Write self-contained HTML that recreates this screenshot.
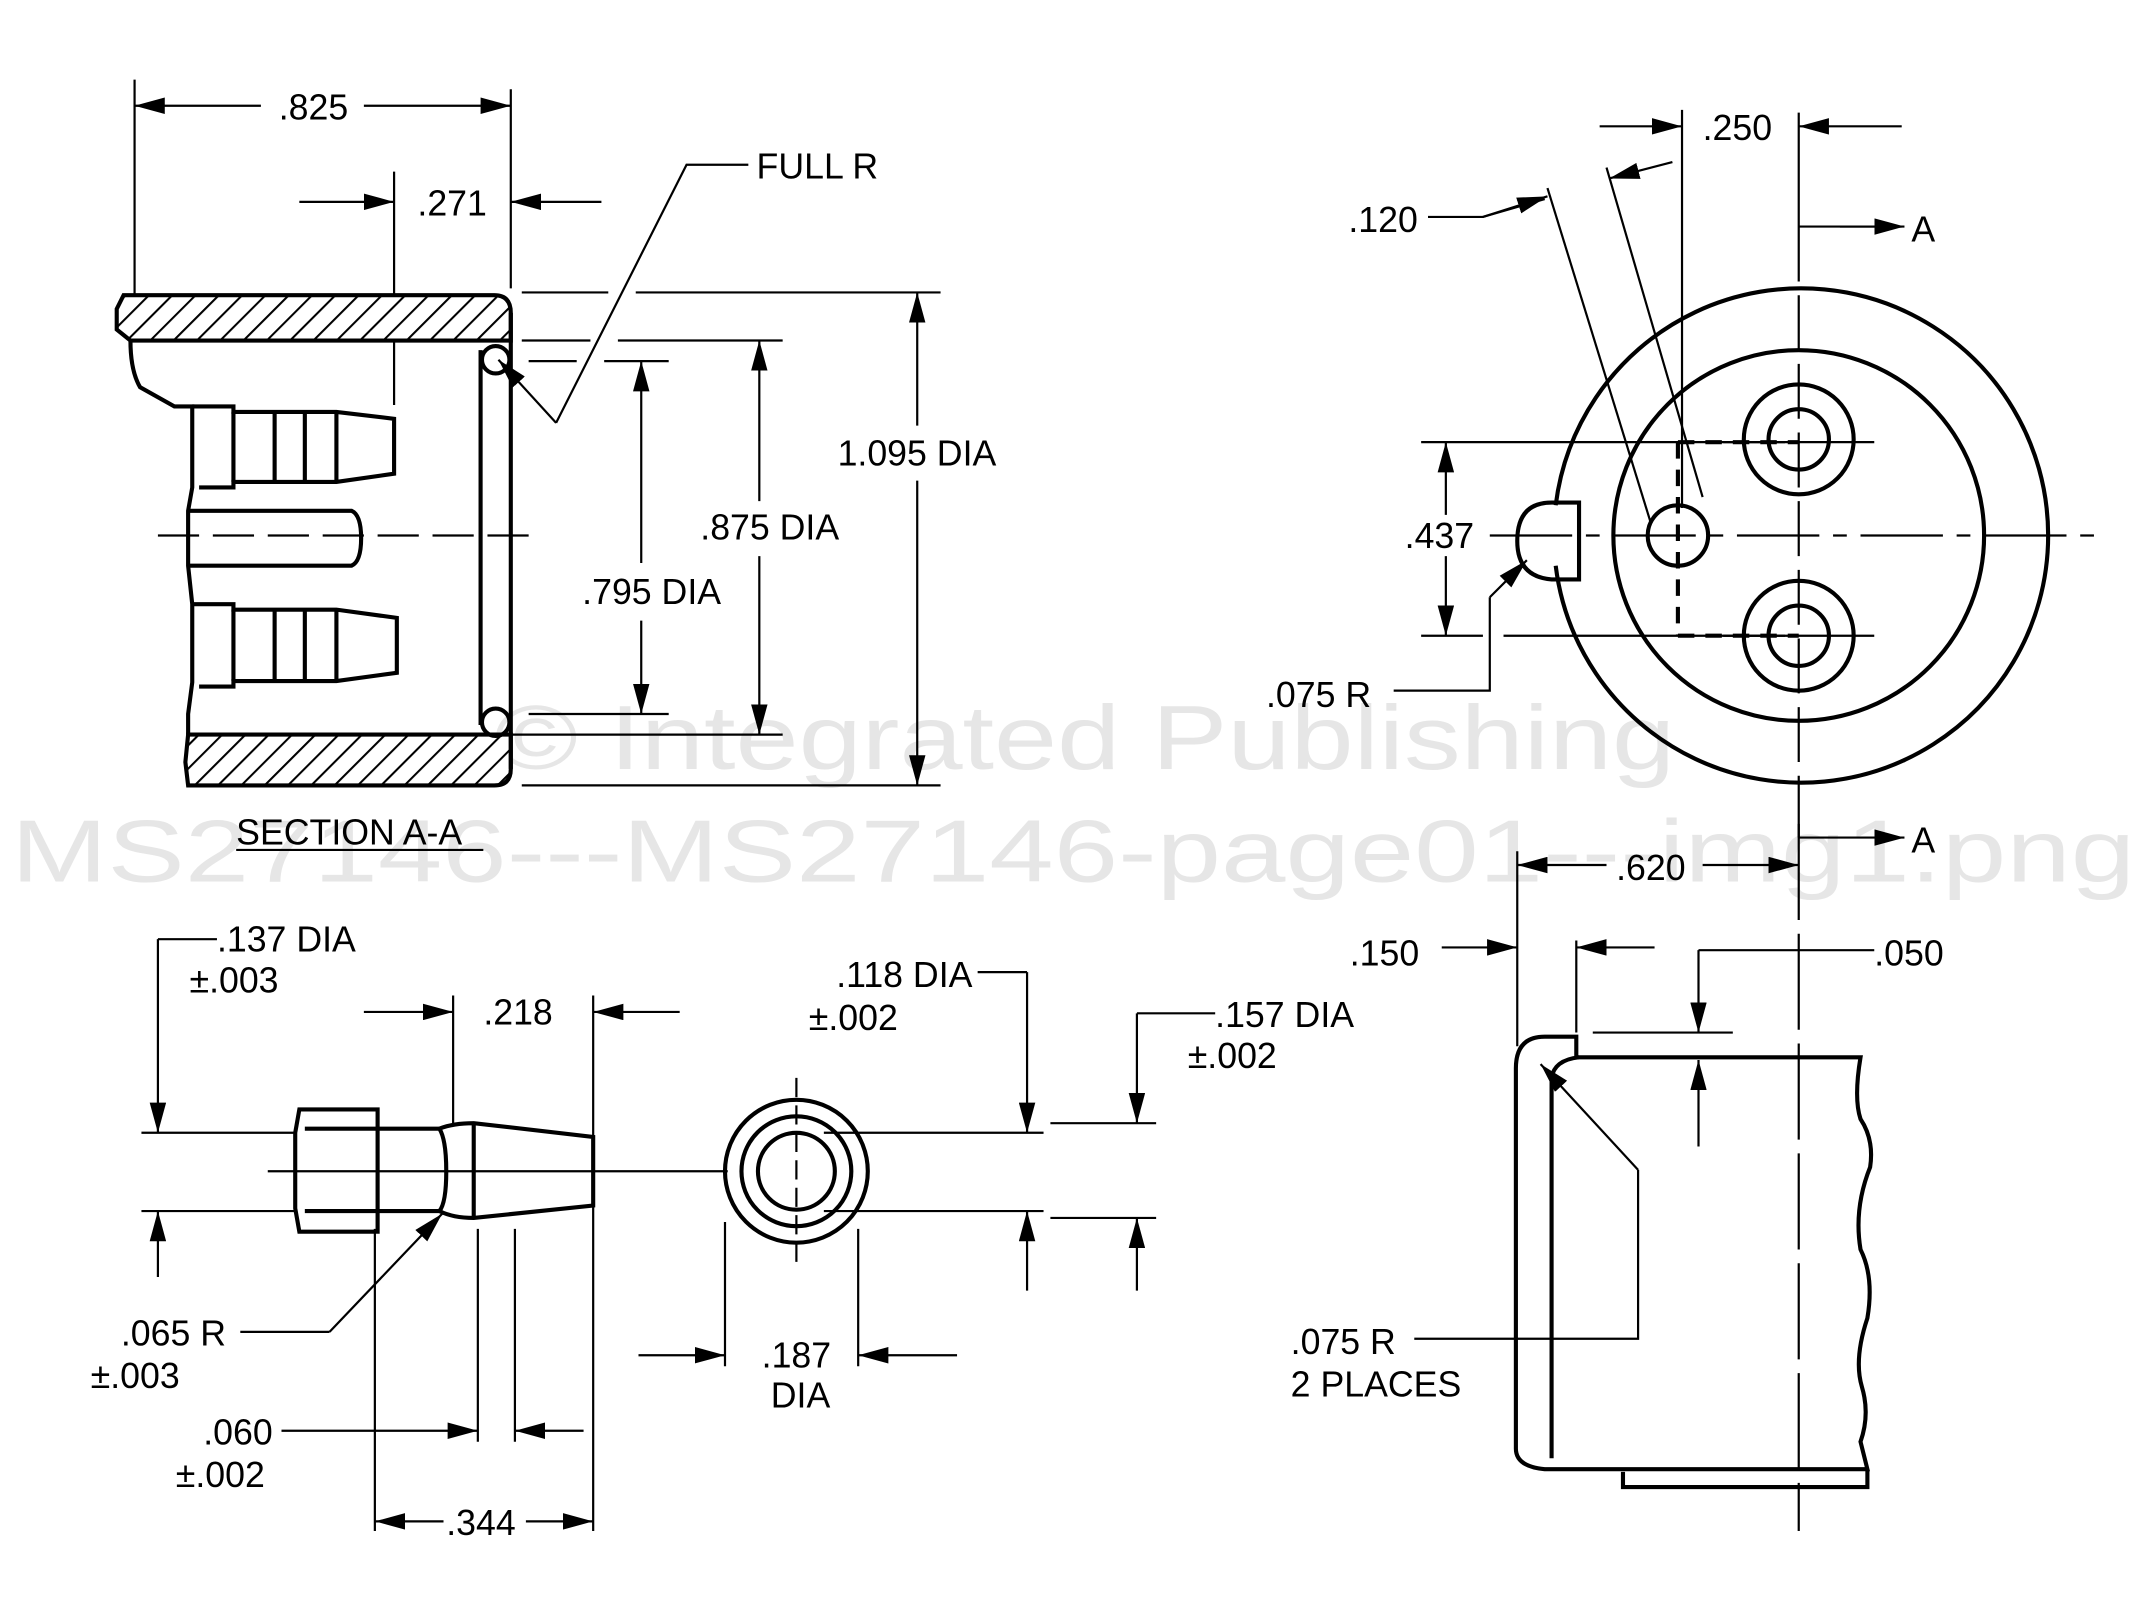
<!DOCTYPE html>
<html><head><meta charset="utf-8"><style>
html,body{margin:0;padding:0;background:#fff;}
svg{display:block;}
text{font-family:"Liberation Sans",sans-serif;font-size:26px;fill:#000;}
</style></head><body>
<svg width="2153" height="1601" viewBox="0 0 1568 1166" xmlns="http://www.w3.org/2000/svg">
<defs>
<marker id="a" viewBox="0 0 22 12" refX="22" refY="6" markerWidth="22" markerHeight="12" markerUnits="userSpaceOnUse" orient="auto"><path d="M0,0 L22,6 L0,12 z" fill="#000"/></marker>
<pattern id="h" width="12" height="12" patternUnits="userSpaceOnUse" patternTransform="rotate(45)"><rect width="12" height="12" fill="#fff"/><line x1="0" y1="0" x2="0" y2="12" stroke="#000" stroke-width="3"/></pattern>
</defs>
<rect width="1568" height="1166" fill="#fff"/>
<!-- watermark -->
<text x="360" y="560" textLength="860" lengthAdjust="spacingAndGlyphs" style="font-size:66px;fill:#e6e6e6">© Integrated Publishing</text>
<text x="8" y="642" textLength="1547" lengthAdjust="spacingAndGlyphs" style="font-size:64px;fill:#e6e6e6">MS27146---MS27146-page01---img1.png</text>

<g stroke="#000" stroke-width="1.6" fill="none">
<line x1="98" y1="58" x2="98" y2="215"/>
<line x1="372" y1="65" x2="372" y2="210"/>
<line x1="190" y1="77" x2="98" y2="77" marker-end="url(#a)"/>
<line x1="265" y1="77" x2="372" y2="77" marker-end="url(#a)"/>
<line x1="287" y1="125" x2="287" y2="295"/>
<line x1="218" y1="147" x2="287" y2="147" marker-end="url(#a)"/>
<line x1="438" y1="147" x2="372" y2="147" marker-end="url(#a)"/>
<path d="M380 213H443M463 213H685M380 572H685M380 248H430M450 248H570M362 535H570M385 263H420M440 263H487M385 520H487"/>
<line x1="668" y1="310" x2="668" y2="213" marker-end="url(#a)"/>
<line x1="668" y1="350" x2="668" y2="572" marker-end="url(#a)"/>
<line x1="553" y1="365" x2="553" y2="248" marker-end="url(#a)"/>
<line x1="553" y1="405" x2="553" y2="535" marker-end="url(#a)"/>
<line x1="467" y1="410" x2="467" y2="263" marker-end="url(#a)"/>
<line x1="467" y1="452" x2="467" y2="520" marker-end="url(#a)"/>
<path d="M545 120H500L405 308"/>
<line x1="405" y1="308" x2="363" y2="262" marker-end="url(#a)"/>
<path d="M115 390H385" stroke-dasharray="30 10"/>
</g>
<g stroke="#000" stroke-width="3" fill="none">
<path d="M90 215H360Q372 215 372 228V248H95L85 240V225Z" fill="url(#h)"/>
<path d="M137 535H372V560Q372 572 360 572H137L135 555Z" fill="url(#h)"/>
<path d="M95 248Q95 270 102 282L127 296H140V355L137 372V412L140 440V497L137 520L137 535"/>
<line x1="372" y1="228" x2="372" y2="560"/>
<line x1="350" y1="255" x2="350" y2="528"/>
<circle cx="361" cy="262" r="10"/><circle cx="361" cy="526" r="10"/>
<path d="M140 296H170V300H245L287 305V345L245 351H170V355H145"/>
<path d="M170 300V351M200 300V351M222 300V351M245 300V351"/>
<path d="M137 372H256Q263 375 263 392Q263 409 256 412H137"/>
<path d="M140 440H170V444H245L289 450V490L245 496H170V500H145"/>
<path d="M170 444V496M200 444V496M222 444V496M245 444V496"/>
</g>
<text x="203" y="87">.825</text>
<text x="304" y="157">.271</text>
<text x="551" y="130">FULL  R</text>
<text x="610" y="339">1.095 DIA</text>
<text x="510" y="393">.875 DIA</text>
<text x="424" y="440">.795 DIA</text>
<text x="172" y="615">SECTION  A-A</text>
<line x1="172" y1="619" x2="352" y2="619" stroke="#000" stroke-width="1.5"/>

<g stroke="#000" stroke-width="1.6" fill="none">
<line x1="1225" y1="80" x2="1225" y2="370"/>
<line x1="1310" y1="82" x2="1310" y2="165"/>
<line x1="1165" y1="92" x2="1225" y2="92" marker-end="url(#a)"/>
<line x1="1385" y1="92" x2="1310" y2="92" marker-end="url(#a)"/>
<path d="M1040 158H1080L1125 145"/>
<line x1="1080" y1="158" x2="1127" y2="143" marker-end="url(#a)"/>
<line x1="1127" y1="137" x2="1202" y2="380"/>
<line x1="1170" y1="122" x2="1240" y2="362"/>
<line x1="1218" y1="118" x2="1172" y2="130" marker-end="url(#a)"/>
<path d="M1035 322H1300M1035 463H1080M1095 463H1300"/>
<line x1="1053" y1="375" x2="1053" y2="322" marker-end="url(#a)"/>
<line x1="1053" y1="405" x2="1053" y2="463" marker-end="url(#a)"/>
<path d="M1015 503H1085V435"/>
<line x1="1085" y1="435" x2="1112" y2="408" marker-end="url(#a)"/>
<path d="M1085 390H1530" stroke-dasharray="60 10 10 10"/>
<line x1="1310" y1="165" x2="1310" y2="570" stroke-dasharray="40 10"/>
<path d="M1310 165H1385"/><line x1="1340" y1="165" x2="1387" y2="165" marker-end="url(#a)"/>
<path d="M1310 570V610"/><line x1="1310" y1="610" x2="1387" y2="610" marker-end="url(#a)"/>
<path d="M1255 322H1365M1255 463H1365"/>
</g>
<g stroke="#000" stroke-width="3" fill="none">
<path d="M1133 368A180 180 0 1 1 1133 412"/>
<circle cx="1310" cy="390" r="135"/>
<circle cx="1310" cy="320" r="22"/><circle cx="1310" cy="320" r="40"/>
<circle cx="1310" cy="463" r="22"/><circle cx="1310" cy="463" r="40"/>
<circle cx="1222" cy="390" r="22"/>
<path d="M1150 366V422H1130Q1105 420 1105 394Q1105 366 1130 366Z"/>
<path d="M1222 322H1310M1222 463H1310M1222 322V463" stroke-dasharray="12 8"/>
</g>
<text x="1240" y="102">.250</text>
<text x="982" y="169">.120</text>
<text x="1023" y="399">.437</text>
<text x="922" y="515">.075  R</text>
<text x="1392" y="176">A</text>
<text x="1392" y="621">A</text>

<g stroke="#000" stroke-width="1.6" fill="none">
<line x1="1105" y1="620" x2="1105" y2="762"/>
<line x1="1310" y1="600" x2="1310" y2="1115" stroke-dasharray="70 10"/>
<line x1="1170" y1="630" x2="1105" y2="630" marker-end="url(#a)"/>
<line x1="1240" y1="630" x2="1310" y2="630" marker-end="url(#a)"/>
<line x1="1050" y1="690" x2="1105" y2="690" marker-end="url(#a)"/>
<line x1="1148" y1="685" x2="1148" y2="752"/>
<line x1="1205" y1="690" x2="1148" y2="690" marker-end="url(#a)"/>
<path d="M1365 692H1237"/>
<line x1="1237" y1="692" x2="1237" y2="752" marker-end="url(#a)"/>
<path d="M1160 752H1262"/>
<line x1="1237" y1="835" x2="1237" y2="772" marker-end="url(#a)"/>
<path d="M1030 975H1193V852"/>
<line x1="1193" y1="852" x2="1122" y2="775" marker-end="url(#a)"/>
</g>
<g stroke="#000" stroke-width="3" fill="none">
<path d="M1104 1055V778Q1104 755 1125 755H1148V770H1355Q1350 800 1355 815Q1365 830 1362 850Q1350 880 1355 910Q1365 930 1360 960Q1350 990 1356 1010Q1362 1030 1355 1050L1360 1070H1125Q1104 1068 1104 1055Z"/>
<path d="M1130 1062V785Q1132 772 1150 770"/>
<path d="M1182 1072V1083H1360V1070"/>
</g>
<text x="983" y="703">.150</text>
<text x="1177" y="641">.620</text>
<text x="1365" y="703">.050</text>
<text x="940" y="986">.075  R</text>
<text x="940" y="1017">2 PLACES</text>

<g stroke="#000" stroke-width="1.6" fill="none">
<path d="M158 684H115"/>
<line x1="115" y1="684" x2="115" y2="825" marker-end="url(#a)"/>
<path d="M103 825H215M103 882H215"/>
<line x1="115" y1="930" x2="115" y2="882" marker-end="url(#a)"/>
<line x1="195" y1="853" x2="530" y2="853"/>
<line x1="330" y1="725" x2="330" y2="820"/>
<line x1="432" y1="725" x2="432" y2="1115"/>
<line x1="265" y1="737" x2="330" y2="737" marker-end="url(#a)"/>
<line x1="495" y1="737" x2="432" y2="737" marker-end="url(#a)"/>
<path d="M175 970H240"/>
<line x1="240" y1="970" x2="322" y2="884" marker-end="url(#a)"/>
<line x1="273" y1="895" x2="273" y2="1115"/>
<line x1="348" y1="895" x2="348" y2="1050"/>
<line x1="375" y1="895" x2="375" y2="1050"/>
<line x1="205" y1="1042" x2="348" y2="1042" marker-end="url(#a)"/>
<line x1="425" y1="1042" x2="375" y2="1042" marker-end="url(#a)"/>
<line x1="323" y1="1108" x2="273" y2="1108" marker-end="url(#a)"/>
<line x1="383" y1="1108" x2="432" y2="1108" marker-end="url(#a)"/>
<line x1="580" y1="785" x2="580" y2="925" stroke-dasharray="14 6"/>
<line x1="528" y1="890" x2="528" y2="995"/>
<line x1="625" y1="895" x2="625" y2="995"/>
<line x1="465" y1="987" x2="528" y2="987" marker-end="url(#a)"/>
<line x1="697" y1="987" x2="625" y2="987" marker-end="url(#a)"/>
<path d="M712 708H748"/>
<line x1="748" y1="708" x2="748" y2="825" marker-end="url(#a)"/>
<path d="M600 825H760M600 882H760"/>
<line x1="748" y1="940" x2="748" y2="882" marker-end="url(#a)"/>
<path d="M885 738H828"/>
<line x1="828" y1="738" x2="828" y2="818" marker-end="url(#a)"/>
<path d="M765 818H842M765 887H842"/>
<line x1="828" y1="940" x2="828" y2="887" marker-end="url(#a)"/>
</g>
<g stroke="#000" stroke-width="3" fill="none">
<path d="M218 808H275V897H218L215 880V825Z"/>
<path d="M275 822H320Q325 830 325 853Q325 876 320 882H275"/>
<path d="M320 822Q330 818 345 818L432 828V878L345 887Q330 887 320 882"/>
<line x1="345" y1="818" x2="345" y2="887"/>
<line x1="222" y1="822" x2="275" y2="822"/><line x1="222" y1="882" x2="275" y2="882"/>
<circle cx="580" cy="853" r="52"/>
<circle cx="580" cy="853" r="40"/>
<circle cx="580" cy="853" r="28"/>
</g>
<text x="158" y="693">.137 DIA</text>
<text x="138" y="723">±.003</text>
<text x="352" y="746">.218</text>
<text x="88" y="980">.065  R</text>
<text x="66" y="1011">±.003</text>
<text x="148" y="1052">.060</text>
<text x="128" y="1083">±.002</text>
<text x="325" y="1118">.344</text>
<text x="609" y="719">.118 DIA</text>
<text x="589" y="750">±.002</text>
<text x="885" y="748">.157 DIA</text>
<text x="865" y="778">±.002</text>
<text x="580" y="996" text-anchor="middle">.187</text>
<text x="583" y="1025" text-anchor="middle">DIA</text>
</svg>
</body></html>
